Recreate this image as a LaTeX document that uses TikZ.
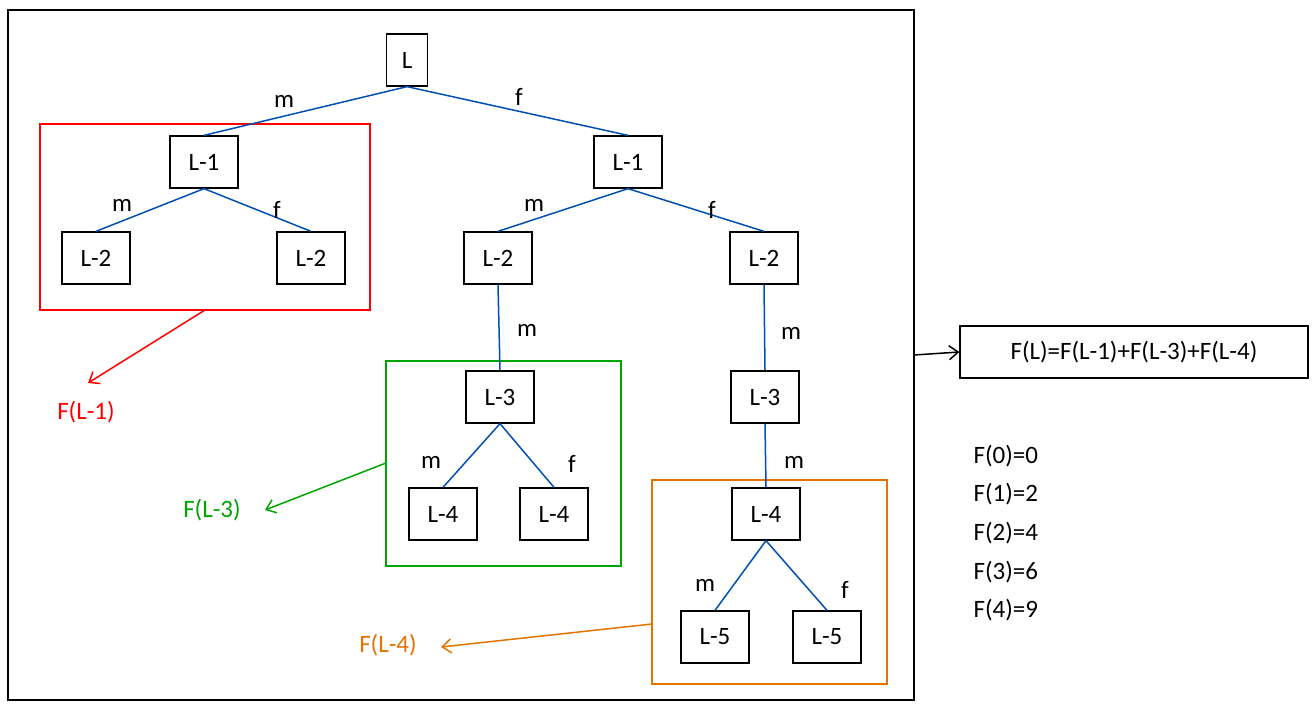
\documentclass[tikz,border=0pt]{standalone}
\usepackage{fontspec}
\setmainfont{Carlito}
\usetikzlibrary{arrows.meta}
\begin{document}
\begin{tikzpicture}[x=1pt,y=-1pt,
 every node/.style={font=\fontsize{25}{30}\selectfont},
 box/.style={draw,line width=1.3pt,minimum width=68pt,minimum height=52pt,inner sep=0pt},
 edge/.style={draw=blue!55!cyan!70!black,line width=1.5pt},
 arr/.style={line width=1.5pt,-{Straight Barb[length=9pt,width=14pt]}},
 lab/.style={inner sep=0pt}]
\useasboundingbox (0,0) rectangle (1316,711);
\draw[line width=1.5pt] (8,10) rectangle (914,700);
\draw[line width=1.5pt,red] (40,124) rectangle (370,310);
\draw[line width=1.5pt,green!65!black] (386,361) rectangle (621,566);
\draw[line width=1.5pt,orange!90!black] (652,480) rectangle (887,684);
\node[box,minimum width=41pt] (L) at (407,60) {L};
\node[box] (a) at (204,162) {L-1};
\node[box] (b) at (628,162) {L-1};
\node[box] (a1) at (96,258) {L-2};
\node[box] (a2) at (311,258) {L-2};
\node[box] (b1) at (498,258) {L-2};
\node[box] (b2) at (764,258) {L-2};
\node[box] (c1) at (500,397) {L-3};
\node[box] (c2) at (765,397) {L-3};
\node[box] (d1) at (443,514) {L-4};
\node[box] (d2) at (554,514) {L-4};
\node[box] (d3) at (766,514) {L-4};
\node[box] (e1) at (715,637) {L-5};
\node[box] (e2) at (827,637) {L-5};
\node[box,minimum width=348pt] (F) at (1134,352) {F(L)=F(L-1)+F(L-3)+F(L-4)};
\foreach \p/\c in {L/a,L/b,a/a1,a/a2,b/b1,b/b2,b1/c1,b2/c2,c1/d1,c1/d2,c2/d3,d3/e1,d3/e2}
  \draw[edge] (\p.south) -- (\c.north);
\foreach \t/\x/\y in {m/284/101,f/519/97,m/122/205,f/277/210,m/534/205,f/712/210,m/527/330,m/791/333,m/431/462,f/572/464,m/794/462,m/705/585,f/845/590}
  \node[lab] at (\x,\y) {\t};
\coordinate (o) at (914,355);
\draw[arr] (o) -- (F.west);
\node[red] (f1) at (86,412) {F(L-1)};
\node[green!65!black] (f3) at (212,510) {F(L-3)};
\node[orange!90!black] (f4) at (388,645) {F(L-4)};
\coordinate (r) at (205,310); \coordinate (g) at (386,463); \coordinate (q) at (652,624);
\draw[arr,red] (r) -- (88,383);
\draw[arr,green!65!black] (g) -- (265,510);
\draw[arr,orange!90!black] (q) -- (441,647);
\node[anchor=west,align=left,font=\fontsize{25}{38.6}\selectfont] (list) at (970,533) {F(0)=0\\F(1)=2\\F(2)=4\\F(3)=6\\F(4)=9};
\end{tikzpicture}
\end{document}
